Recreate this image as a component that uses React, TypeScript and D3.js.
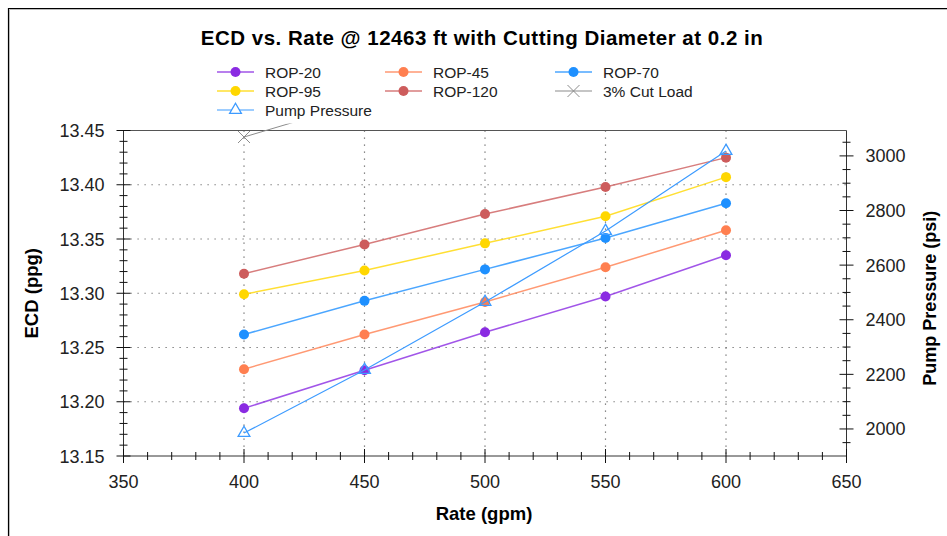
import React, { useEffect, useRef } from 'react';
import * as d3 from 'd3';

const rates = [400, 450, 500, 550, 600];
const rop20 = [13.194, 13.229, 13.264, 13.297, 13.335];
const rop45 = [13.23, 13.262, 13.292, 13.324, 13.358];
const rop70 = [13.262, 13.293, 13.322, 13.351, 13.383];
const rop95 = [13.299, 13.321, 13.346, 13.371, 13.407];
const rop120 = [13.318, 13.345, 13.373, 13.398, 13.425];
const cutLoad = [13.444, 13.477, 13.511, 13.545, 13.58];
const pumpPressure = [1985, 2216, 2465, 2725, 3018];

const seriesNames = ['ROP-20', 'ROP-45', 'ROP-70', 'ROP-95', 'ROP-120', '3% Cut Load', 'Pump Pressure'];
const seriesColors = ['#8a2be2', '#ff7f50', '#1e90ff', '#ffd700', '#cd5c5c', '#8c8c8c', '#3d9bff'];

const xTicks = [350, 400, 450, 500, 550, 600, 650];
const yLeftTicks = [13.15, 13.2, 13.25, 13.3, 13.35, 13.4, 13.45];
const yRightTicks = [2000, 2200, 2400, 2600, 2800, 3000];

const FONT = '"Liberation Sans", Arial, sans-serif';

const App = () => {
  const ref = useRef(null);

  useEffect(() => {
    const width = 947;
    const height = 536;
    const left = 123.5, right = 846.5, top = 130.5, bottom = 456;

    const svg = d3.select(ref.current)
      .append('svg')
      .attr('width', width)
      .attr('height', height)
      .style('position', 'absolute')
      .style('left', '0px')
      .style('top', '0px')
      .style('font-family', FONT);

    // frame
    svg.append('rect').attr('width', width).attr('height', height).attr('fill', '#fff');
    svg.append('path').attr('d', `M8.5,${height}V8.5H${width}`).attr('fill', 'none').attr('stroke', '#000').attr('stroke-width', 1.2);
    svg.append('path').attr('d', `M9.5,${height}V9.5H${width}`).attr('fill', 'none').attr('stroke', '#bbb');

    const x = d3.scaleLinear().domain([350, 650]).range([left, right]);
    const yL = d3.scaleLinear().domain([13.15, 13.45]).range([bottom, top]);
    const yR = d3.scaleLinear().domain([1901, 3093]).range([bottom, top]);

    // grid
    const grid = svg.append('g').attr('stroke', '#666').attr('stroke-dasharray', '1.2,5.8').attr('stroke-width', 1.2);
    xTicks.slice(1, -1).forEach(t => {
      grid.append('line').attr('x1', x(t)).attr('x2', x(t)).attr('y1', top).attr('y2', bottom);
    });
    yLeftTicks.slice(1, -1).forEach(t => {
      grid.append('line').attr('x1', left).attr('x2', right).attr('y1', yL(t)).attr('y2', yL(t));
    });

    // axis lines
    const axisColor = '#333';
    svg.append('line').attr('x1', left).attr('x2', right).attr('y1', top).attr('y2', top).attr('stroke', '#555');
    svg.append('line').attr('x1', left).attr('x2', right).attr('y1', bottom).attr('y2', bottom).attr('stroke', axisColor);
    svg.append('line').attr('x1', left).attr('x2', left).attr('y1', top).attr('y2', bottom + 6).attr('stroke', axisColor);
    svg.append('line').attr('x1', right).attr('x2', right).attr('y1', top).attr('y2', bottom + 6).attr('stroke', axisColor);

    const ticks = svg.append('g').attr('stroke', '#111');
    d3.range(350, 651, 10).forEach(v => {
      const major = v % 50 === 0;
      ticks.append('line').attr('x1', x(v)).attr('x2', x(v))
        .attr('y1', bottom - (major ? 7 : 4)).attr('y2', bottom + (major ? 7 : 4));
    });
    d3.range(0, 31).forEach(i => {
      const v = 13.15 + i * 0.01;
      const major = i % 5 === 0;
      ticks.append('line').attr('y1', yL(v)).attr('y2', yL(v))
        .attr('x1', left - (major ? 7 : 4)).attr('x2', left + (major ? 7 : 4));
    });
    d3.range(1950, 3093, 50).forEach(v => {
      const major = v % 200 === 0;
      ticks.append('line').attr('y1', yR(v)).attr('y2', yR(v))
        .attr('x1', right - (major ? 7 : 4)).attr('x2', right + (major ? 7 : 4));
    });

    // tick labels
    const lbl = svg.append('g').attr('font-size', 18).attr('fill', '#222');
    xTicks.forEach(t => {
      lbl.append('text').attr('x', x(t)).attr('y', bottom + 32).attr('text-anchor', 'middle').text(t);
    });
    yLeftTicks.forEach(t => {
      lbl.append('text').attr('x', left - 19).attr('y', yL(t) + 6.5).attr('text-anchor', 'end').text(t.toFixed(2));
    });
    yRightTicks.forEach(t => {
      lbl.append('text').attr('x', right + 19).attr('y', yR(t) + 6.5).attr('text-anchor', 'start').text(t);
    });

    // axis titles
    svg.append('text').attr('x', 484).attr('y', 520).attr('text-anchor', 'middle')
      .attr('font-size', 18.5).attr('font-weight', 'bold').text('Rate (gpm)');
    svg.append('text').attr('transform', `translate(38,${(top + bottom) / 2}) rotate(-90)`).attr('text-anchor', 'middle')
      .attr('font-size', 18.5).attr('font-weight', 'bold').text('ECD (ppg)');
    svg.append('text').attr('transform', `translate(936,${(top + bottom) / 2 + 5}) rotate(-90)`).attr('text-anchor', 'middle')
      .attr('font-size', 18).attr('font-weight', 'bold').text('Pump Pressure (psi)');

    svg.append('text').attr('x', 482).attr('y', 45).attr('text-anchor', 'middle')
      .attr('font-size', 20.5).attr('letter-spacing', 0.5).attr('font-weight', 'bold').attr('fill', '#000')
      .text('ECD vs. Rate @ 12463 ft with Cutting Diameter at 0.2 in');

    // clip
    svg.append('clipPath').attr('id', 'plotclip').append('rect')
      .attr('x', left).attr('y', top - 7).attr('width', right - left).attr('height', bottom - top + 7);
    const plot = svg.append('g').attr('clip-path', 'url(#plotclip)');

    const ecdSeries = [rop20, rop45, rop70, rop95, rop120];
    const lineL = d3.line<number>().x((d, i) => x(rates[i])).y(d => yL(d));

    ecdSeries.forEach((vals, s) => {
      plot.append('path').attr('d', lineL(vals)).attr('fill', 'none')
        .attr('stroke', seriesColors[s]).attr('stroke-opacity', 0.8).attr('stroke-width', 1.5);
      vals.forEach((v, i) => {
        plot.append('circle').attr('cx', x(rates[i])).attr('cy', yL(v)).attr('r', 5).attr('fill', seriesColors[s]);
      });
    });

    // cut load
    const cutColor = seriesColors[5];
    plot.append('path').attr('d', lineL(cutLoad)).attr('fill', 'none').attr('stroke', cutColor).attr('stroke-width', 1);
    cutLoad.forEach((v, i) => {
      const cx = x(rates[i]), cy = yL(v);
      plot.append('path').attr('d', `M${cx - 6},${cy - 6}L${cx + 6},${cy + 6}M${cx - 6},${cy + 6}L${cx + 6},${cy - 6}`)
        .attr('stroke', cutColor).attr('stroke-width', 1);
    });

    // pump pressure
    const ppColor = seriesColors[6];
    const lineR = d3.line<number>().x((d, i) => x(rates[i])).y(d => yR(d));
    plot.append('path').attr('d', lineR(pumpPressure)).attr('fill', 'none').attr('stroke', ppColor).attr('stroke-width', 1.2);
    const tri = d3.symbol().type(d3.symbolTriangle).size(60);
    pumpPressure.forEach((v, i) => {
      plot.append('path').attr('d', tri()).attr('transform', `translate(${x(rates[i])},${yR(v)})`)
        .attr('fill', '#fff').attr('fill-opacity', 0).attr('stroke', ppColor).attr('stroke-width', 1.3);
    });

    // legend
    const legendPos = [
      [217, 72], [385, 72], [555, 72],
      [217, 91], [385, 91], [555, 91],
      [217, 110],
    ];
    const legendOrder = [0, 1, 2, 3, 4, 5, 6];
    legendOrder.forEach((s, k) => {
      const [lx, ly] = legendPos[k];
      const g = svg.append('g');
      const c = seriesColors[s];
      g.append('line').attr('x1', lx).attr('x2', lx + 37).attr('y1', ly).attr('y2', ly)
        .attr('stroke', c).attr('stroke-opacity', s < 5 ? 0.8 : 1).attr('stroke-width', s < 5 ? 1.5 : 1.2);
      const mx = lx + 18.5;
      if (s < 5) {
        g.append('circle').attr('cx', mx).attr('cy', ly).attr('r', 5).attr('fill', c);
      } else if (s === 5) {
        g.append('path').attr('d', `M${mx - 6},${ly - 6}L${mx + 6},${ly + 6}M${mx - 6},${ly + 6}L${mx + 6},${ly - 6}`)
          .attr('stroke', c).attr('stroke-width', 1);
      } else {
        g.append('path').attr('d', tri()).attr('transform', `translate(${mx},${ly})`)
          .attr('fill', '#fff').attr('stroke', c).attr('stroke-width', 1.3);
      }
      g.append('text').attr('x', lx + 48).attr('y', ly + 5.5).attr('font-size', 15.5).attr('fill', '#222')
        .text(seriesNames[s]);
    });

    return () => {
      d3.select(ref.current).selectAll('svg').remove();
    };
  }, []);

  return <div ref={ref} />;
};

export default App;
